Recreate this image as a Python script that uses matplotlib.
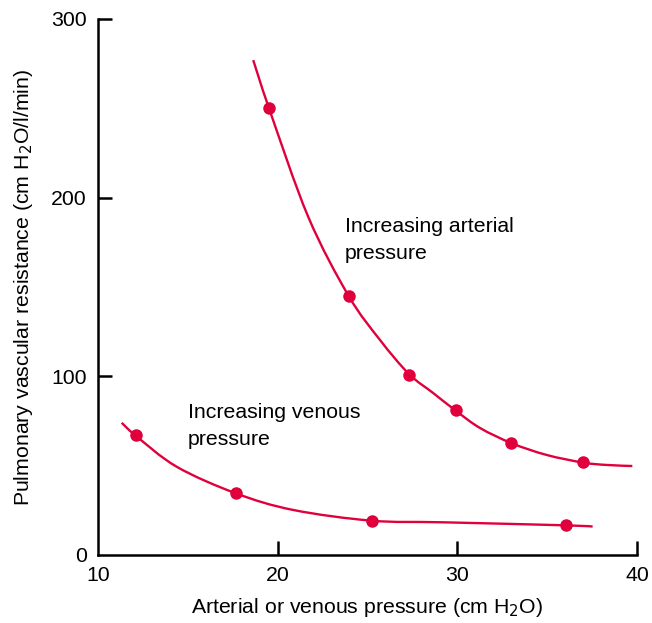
import matplotlib
matplotlib.use("Agg")
import matplotlib.pyplot as plt
from matplotlib.path import Path
from matplotlib.patches import PathPatch

plt.rcParams['font.family'] = ['Liberation Sans', 'DejaVu Sans']

# Measured data points (markers)
art_x = [19.5, 23.95, 27.3, 29.9, 33.0, 37.0]
art_y = [250, 145, 101, 81, 62.5, 52]
ven_x = [12.1, 17.7, 25.25, 36.05]
ven_y = [67, 34.5, 19.3, 16.7]

# Drawn curve paths
art_curve_x = [18.64, 19.52, 21.70, 23.95, 25.70, 27.31, 28.65, 29.91, 31.26,
               33.04, 34.97, 37.01, 38.31, 39.74]
art_curve_y = [277.0, 250.0, 189.3, 145.0, 120.3, 101.3, 90.7, 80.8, 71.1,
               62.5, 56.0, 51.7, 50.4, 49.8]
ven_curve_x = [11.32, 12.10, 14.38, 17.68, 20.87, 25.25, 29.22, 36.05, 37.53]
ven_curve_y = [74.0, 66.8, 49.4, 34.5, 25.2, 19.2, 18.3, 16.6, 15.9]

x_ticks = [10, 20, 30, 40]
y_ticks = [0, 100, 200, 300]

red = '#E0003C'
FS = 15.3


def smooth_path(xs, ys):
    """Catmull-Rom curve through the given points, as cubic Bezier path."""
    pts = list(zip(xs, ys))
    n = len(pts)
    verts = [pts[0]]
    codes = [Path.MOVETO]
    for i in range(n - 1):
        p0 = pts[i - 1] if i > 0 else pts[i]
        p1 = pts[i]
        p2 = pts[i + 1]
        p3 = pts[i + 2] if i + 2 < n else pts[i + 1]
        c1 = (p1[0] + (p2[0] - p0[0]) / 6, p1[1] + (p2[1] - p0[1]) / 6)
        c2 = (p2[0] - (p3[0] - p1[0]) / 6, p2[1] - (p3[1] - p1[1]) / 6)
        verts += [c1, c2, p2]
        codes += [Path.CURVE4] * 3
    return Path(verts, codes)


fig = plt.figure(figsize=(6.52, 6.23), dpi=100)
ax = fig.add_axes([98/652, 1 - 555/623, (637-98)/652, (555-19)/623])

for cx, cy in ((art_curve_x, art_curve_y), (ven_curve_x, ven_curve_y)):
    ax.add_patch(PathPatch(smooth_path(cx, cy), fill=False, edgecolor=red,
                           lw=1.7, capstyle='butt'))
ax.plot(art_x, art_y, 'o', color=red, ms=9, mew=0)
ax.plot(ven_x, ven_y, 'o', color=red, ms=9, mew=0)

ax.set_xlim(10, 40)
ax.set_ylim(0, 300)
ax.set_xticks(x_ticks)
ax.set_yticks(y_ticks)
ax.spines['top'].set_visible(False)
ax.spines['right'].set_visible(False)
for s in ('left', 'bottom'):
    ax.spines[s].set_linewidth(1.8)
ax.tick_params(direction='in', length=10, width=1.8, labelsize=FS, pad=8)
ax.xaxis.get_major_ticks()[0].tick1line.set_visible(False)
ax.yaxis.get_major_ticks()[0].tick1line.set_visible(False)

ax.set_xlabel('Arterial or venous pressure (cm H$_2$O)', fontsize=FS, labelpad=8)
ax.set_ylabel('Pulmonary vascular resistance (cm H$_2$O/l/min)', fontsize=FS, labelpad=12)

ax.text(23.75, 189, 'Increasing arterial\npressure', fontsize=FS, va='top', ha='left',
        linespacing=1.5)
ax.text(15.0, 85, 'Increasing venous\npressure', fontsize=FS, va='top', ha='left',
        linespacing=1.5)

fig.savefig('out.png', dpi=100)
